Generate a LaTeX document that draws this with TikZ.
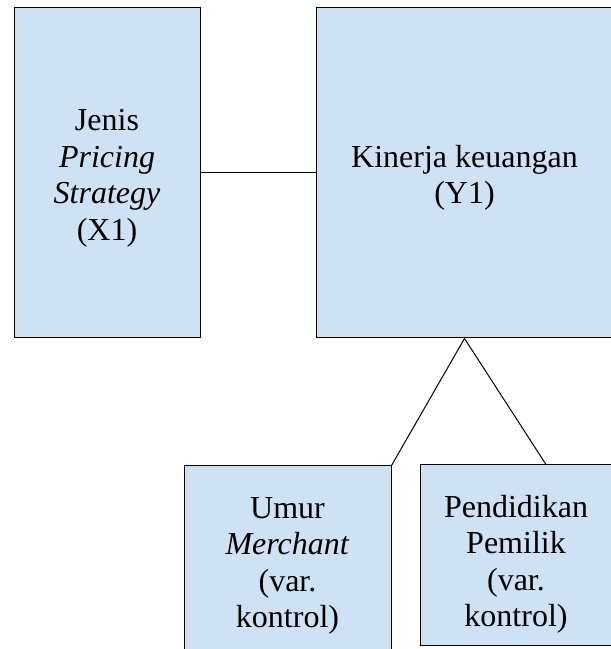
\documentclass[tikz,border=0pt]{standalone}
\usepackage{fontspec}
\setmainfont{Liberation Serif}
\usepackage{xcolor}
\usepackage{tikz}
\definecolor{boxblue}{HTML}{CFE2F3}
\tikzstyle{variabel} = [rectangle, draw=black, line width=1pt, fill=boxblue, align=center, font=\fontsize{32}{36.5}\selectfont]
\tikzstyle{garis} = [line width=1pt]

\begin{document}
\begin{tikzpicture}[x=1pt, y=1pt, node distance=357.5pt]
			\useasboundingbox (0,0) rectangle (611,649);
			\node (jenis) [variabel, minimum width=186pt, minimum height=330pt, text height=141.5pt] at (107,476) {Jenis\\\textit{Pricing}\\\textit{Strategy}\\(X1)};
			\node (kinerja) [variabel, right of=jenis, minimum width=297pt, minimum height=330pt, text height=68.5pt] {Kinerja keuangan\\(Y1)};
			\node (umur) [variabel, minimum width=207pt, minimum height=200pt] at (287.5,83) {Umur\\\textit{Merchant}\\(var.\\kontrol)};
			\node (pendidikan) [variabel, minimum width=192pt, minimum height=181pt, text height=149.5pt] at (516,93.5) {Pendidikan\\Pemilik\\(var.\\kontrol)};

			\draw [garis] (jenis) -- (kinerja);
			\draw [garis] (kinerja.south) -- (umur.north east);
			\draw [garis] (kinerja.south) -- ([xshift=30pt]pendidikan.north);
		\end{tikzpicture}
\end{document}
